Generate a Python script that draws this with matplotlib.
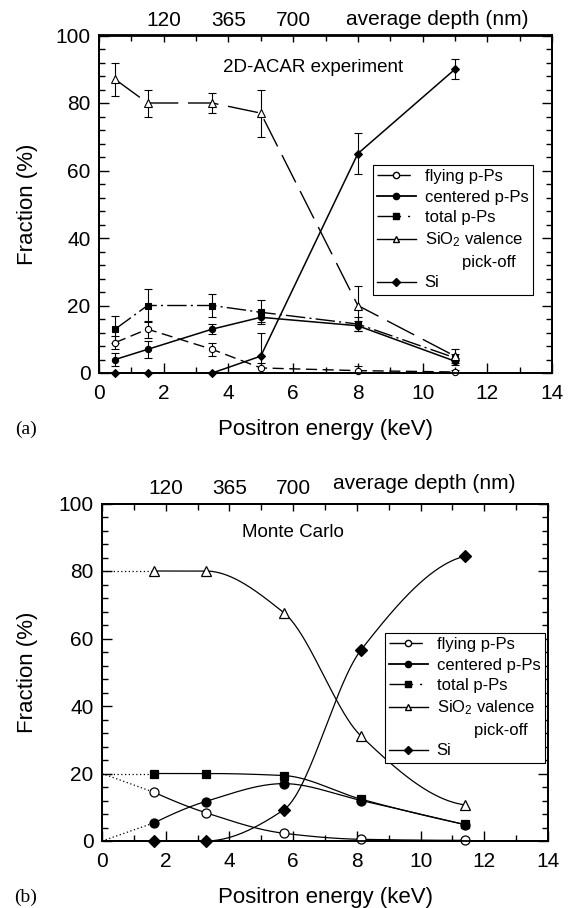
import numpy as np
import matplotlib
matplotlib.use("Agg")
import matplotlib.pyplot as plt
from matplotlib.lines import Line2D
from matplotlib.ticker import MultipleLocator

plt.rcParams.update({
    "font.family": ["Liberation Sans", "DejaVu Sans"],
    "mathtext.fontset": "custom",
    "mathtext.rm": "Liberation Sans",
    "mathtext.it": "Liberation Sans:italic",
    "mathtext.bf": "Liberation Sans:bold",
})

# ---------------- data: (a) 2D-ACAR experiment ----------------
energy_exp = [0.5, 1.5, 3.5, 5.0, 8.0, 11.0]
flying_exp = [9.0, 13.0, 7.0, 1.5, 0.7, 0.3]
flying_err = [2.0, 2.5, 2.0, 1.5, 1.5, 0.5]
centered_exp = [4.0, 7.0, 13.0, 16.5, 14.0, 3.5]
centered_err = [2.0, 2.5, 1.5, 1.5, 1.5, 1.0]
total_exp = [13.0, 20.0, 20.0, 18.0, 14.5, 4.5]
total_err = [4.0, 5.0, 3.5, 3.5, 2.0, 1.0]
sio2_exp = [87.0, 80.0, 80.0, 77.0, 20.0, 5.0]
sio2_err = [5.0, 4.0, 3.0, 7.0, 5.7, 2.0]
si_exp = [0.0, 0.0, 0.0, 5.0, 65.0, 90.0]
si_err = [0.0, 0.0, 0.0, 7.0, 6.0, 3.0]

# ---------------- data: (b) Monte Carlo ----------------
energy_mc = [1.64, 3.25, 5.7, 8.13, 11.4]
flying_mc = [14.4, 8.4, 2.3, 0.5, 0.2]
centered_mc = [5.4, 11.7, 17.0, 12.0, 4.8]
total_mc = [20.0, 20.0, 19.4, 12.4, 4.9]
sio2_mc = [80.0, 80.0, 67.7, 31.1, 10.7]
si_mc = [0.0, 0.0, 9.2, 56.6, 84.4]
# values at E = 0 (dotted extrapolation)
flying_mc0 = 20.0
centered_mc0 = 0.0
total_mc0 = 20.0
sio2_mc0 = 80.0

series_labels = ["flying p-Ps", "centered p-Ps", "total p-Ps",
                 "SiO$_2$ valence", "        pick-off", "Si"]
depth_ticks = [2, 4, 6]
depth_labels = ["120", "365", "700"]

# ---------------- styles ----------------
ls_flying = (0, (8, 4))
ls_centered = "-"
ls_total = (0, (14, 3, 1.5, 3))
ls_sio2 = (0, (22, 7))
ls_si = "-"


def pchip(x, y, xs):
    x = np.asarray(x, float)
    y = np.asarray(y, float)
    h = np.diff(x)
    dl = np.diff(y) / h
    n = len(x)
    d = np.zeros(n)
    for k in range(1, n - 1):
        if dl[k - 1] * dl[k] > 0:
            w1 = 2 * h[k] + h[k - 1]
            w2 = h[k] + 2 * h[k - 1]
            d[k] = (w1 + w2) / (w1 / dl[k - 1] + w2 / dl[k])
    def endslope(h0, h1, d0, d1):
        s = ((2 * h0 + h1) * d0 - h0 * d1) / (h0 + h1)
        if np.sign(s) != np.sign(d0):
            s = 0.0
        elif np.sign(d0) != np.sign(d1) and abs(s) > abs(3 * d0):
            s = 3 * d0
        return s
    d[0] = endslope(h[0], h[1], dl[0], dl[1])
    d[-1] = endslope(h[-1], h[-2], dl[-1], dl[-2])
    idx = np.clip(np.searchsorted(x, xs) - 1, 0, n - 2)
    t = (xs - x[idx]) / h[idx]
    h00 = 2 * t**3 - 3 * t**2 + 1
    h10 = t**3 - 2 * t**2 + t
    h01 = -2 * t**3 + 3 * t**2
    h11 = t**3 - t**2
    return (h00 * y[idx] + h10 * h[idx] * d[idx] + h01 * y[idx + 1]
            + h11 * h[idx] * d[idx + 1])


def style_axes(ax, depth_y, depth_x):
    ax.set_xlim(0, 14)
    ax.set_ylim(0, 100)
    ax.xaxis.set_major_locator(MultipleLocator(2))
    ax.xaxis.set_minor_locator(MultipleLocator(1))
    ax.yaxis.set_major_locator(MultipleLocator(20))
    ax.yaxis.set_minor_locator(MultipleLocator(4))
    ax.tick_params(which="both", direction="in", right=True, top=False,
                   width=1.0, colors="k", labelsize=15)
    ax.tick_params(which="major", length=7)
    ax.tick_params(which="minor", length=4)
    ax.tick_params(axis="x", pad=8)
    ax.tick_params(axis="y", pad=6)
    for sp in ax.spines.values():
        sp.set_linewidth(1.3)
    tw = ax.twiny()
    tw.set_xlim(0, 14)
    tpos = np.arange(0, 15, 2)
    lab = dict(zip(depth_ticks, depth_labels))
    tw.set_xticks(tpos)
    tw.set_xticklabels([lab.get(int(t), "") for t in tpos])
    tw.xaxis.set_minor_locator(MultipleLocator(1))
    tw.tick_params(which="both", direction="in", width=1.0, labelsize=15,
                   pad=4)
    tw.tick_params(which="major", length=5)
    tw.tick_params(which="minor", length=4)
    for sp in tw.spines.values():
        sp.set_linewidth(1.3)
    ax.text(depth_x, depth_y, "average depth (nm)", fontsize=15,
            ha="center", va="center", transform=ax.get_xaxis_transform())
    ax.set_xlabel("Positron energy (keV)", fontsize=16)
    ax.set_ylabel("Fraction (%)", fontsize=16)
    ax.xaxis.label.set_va("center")
    ax.yaxis.label.set_va("center")
    return tw


def legend_handles():
    ms = 4.5
    return [
        Line2D([], [], color="k", lw=1, ls=(0, (12, 4, 8, 12)), marker="o",
               ms=ms, mfc="white", mec="k"),
        Line2D([], [], color="k", lw=1.3, ls="-", marker="o", ms=ms,
               mfc="k", mec="k"),
        Line2D([], [], color="k", lw=1, ls=(0, (17, 5, 1.5, 10)), marker="s",
               ms=ms, mfc="k", mec="k"),
        Line2D([], [], color="k", lw=1, ls="-", marker="^", ms=ms,
               mfc="white", mec="k"),
        Line2D([], [], color="none", lw=0),
        Line2D([], [], color="k", lw=1, ls="-", marker="D", ms=ms - 0.5,
               mfc="k", mec="k"),
    ]


def add_legend(ax, x0, y0):
    leg = ax.legend(legend_handles(), series_labels, loc="upper left",
                    bbox_to_anchor=(x0, y0), fontsize=12, frameon=True,
                    fancybox=False, edgecolor="k", framealpha=1,
                    handlelength=2.3, handletextpad=0.55, labelspacing=0.33,
                    borderpad=0.25, borderaxespad=0)
    leg.get_frame().set_linewidth(0.8)
    return leg


fig = plt.figure(figsize=(5.73, 9.08), dpi=100)

# ---------------- panel (a) ----------------
axa = fig.add_axes([99 / 573, 1 - 373 / 908, 453 / 573, 337.5 / 908])
style_axes(axa, 1.047, 10.45)
axa.xaxis.set_label_coords(0.5, -(429 - 373) / 337.5)
axa.yaxis.set_label_coords(-(99 - 28) / 453, 0.5)

xe = np.asarray(energy_exp)
exp_series = [
    (flying_exp, flying_err, ls_flying, "o", "white", 4.5, 1.0),
    (centered_exp, centered_err, ls_centered, "o", "k", 4.5, 1.1),
    (total_exp, total_err, ls_total, "s", "k", 4.5, 1.0),
    (sio2_exp, sio2_err, ls_sio2, "^", "white", 5.5, 1.0),
    (si_exp, si_err, ls_si, "D", "k", 4.0, 1.1),
]
for y, err, ls, mk, fc, ms, lw in exp_series:
    y = np.asarray(y)
    err = np.asarray(err)
    m = err > 0
    axa.errorbar(xe[m], y[m], yerr=err[m], fmt="none", ecolor="k",
                 elinewidth=0.8, capsize=3, capthick=0.8, zorder=2)
    axa.plot(xe, y, color="k", lw=lw, ls=ls, marker=mk, ms=ms, mfc=fc,
             mec="k", mew=0.8, clip_on=False, zorder=3)

axa.text(3.83, 90.4, "2D-ACAR experiment", fontsize=13.5, va="center")
add_legend(axa, (373 - 99) / 453, (373 - 165) / 337.5)
fig.text(26 / 573, 1 - 429 / 908, "(a)", family="Liberation Serif",
         fontsize=14, ha="center", va="center")

# ---------------- panel (b) ----------------
axb = fig.add_axes([102 / 573, 1 - 841 / 908, 446 / 573, 337.5 / 908])
style_axes(axb, 1.059, 10.1)
axb.xaxis.set_label_coords(0.5, -(897 - 841) / 337.5)
axb.yaxis.set_label_coords(-(102 - 28) / 446, 0.5)

xm = np.asarray(energy_mc)
xs = np.linspace(xm[0], xm[-1], 400)
mc_series = [
    (flying_mc, flying_mc0, "o", "white", 6.5),
    (centered_mc, centered_mc0, "o", "k", 6.5),
    (total_mc, total_mc0, "s", "k", 6.0),
    (sio2_mc, sio2_mc0, "^", "white", 7.5),
    (si_mc, None, "D", "k", 6.5),
]
for y, y0, mk, fc, ms in mc_series:
    y = np.asarray(y)
    axb.plot(xs, pchip(xm, y, xs), color="k", lw=0.9, zorder=2,
             clip_on=False)
    if y0 is not None:
        axb.plot([0, xm[0]], [y0, y[0]], color="k", lw=0.9, ls=(0, (1, 2)),
                 zorder=2, clip_on=False)
    axb.plot(xm, y, ls="none", marker=mk, ms=ms, mfc=fc, mec="k", mew=0.9,
             zorder=3, clip_on=False)

axb.text(4.4, 91.5, "Monte Carlo", fontsize=13.5, va="center")
add_legend(axb, (385 - 102) / 446, (841 - 633) / 337.5)
fig.text(26 / 573, 1 - 897 / 908, "(b)", family="Liberation Serif",
         fontsize=14, ha="center", va="center")

fig.savefig("out.png", dpi=100)
